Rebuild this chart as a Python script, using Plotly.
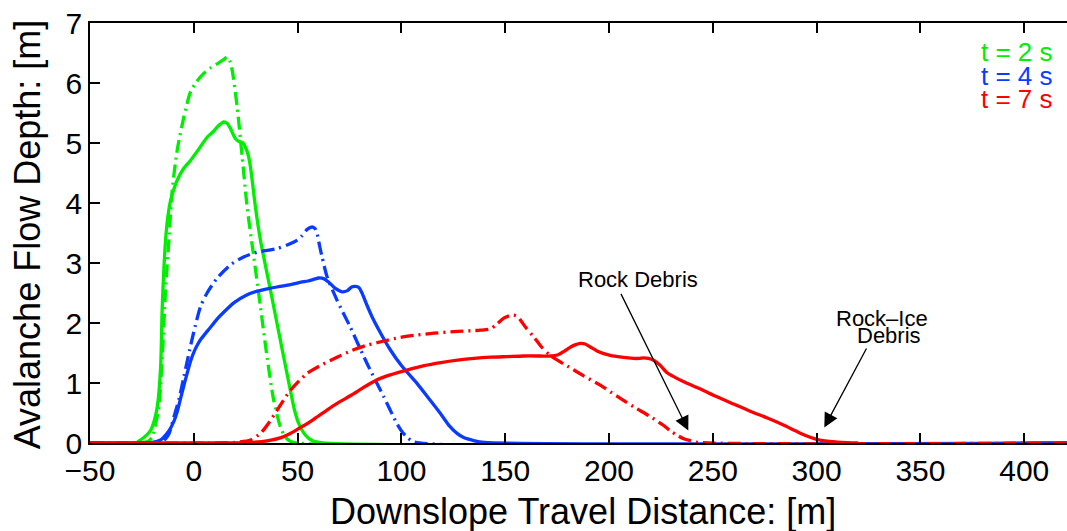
import plotly.graph_objects as go

# ---- data ----
x_g_solid = [-50, -28, -25.7, -22.5, -20.8, -19, -17.6, -16, -15.2, -13.6, -12.5, -11.2, -9.7, -8, -5, -1.6, 2, 6.5, 9.7, 11.3, 13, 14.4, 16, 17.7, 19, 20.1, 21.5, 22.5, 23.7, 24.9, 26.2, 27.3, 29.7, 32.1, 36.9, 41.7, 46.5, 48.5, 50.6, 53.8, 57, 62, 421]
y_g_solid = [0, 0, 0.05, 0.14, 0.21, 0.38, 0.6, 1.25, 2.27, 3.38, 3.77, 4.04, 4.22, 4.38, 4.57, 4.71, 4.88, 5.1, 5.2, 5.27, 5.32, 5.35, 5.33, 5.24, 5.14, 5.07, 5.03, 5.02, 5.0, 4.93, 4.8, 4.6, 3.93, 3.38, 2.55, 1.71, 0.88, 0.55, 0.32, 0.13, 0.04, 0, 0]

x_g_dash = [-50, -26, -22, -20, -18.5, -16.8, -15.2, -13.6, -12, -10.4, -8, -4.8, -1.6, 1.5, 4.8, 8, 11.3, 14, 16.1, 17.3, 18.5, 20.9, 23.3, 25.7, 28.9, 32.1, 35.3, 38.5, 41.7, 44.1, 47, 421]
y_g_dash = [0, 0, 0.03, 0.1, 0.3, 0.6, 1.43, 2.55, 3.38, 4.21, 4.88, 5.43, 5.85, 6.03, 6.16, 6.25, 6.32, 6.38, 6.43, 6.37, 6.21, 5.6, 4.77, 3.93, 3.1, 2.27, 1.43, 0.71, 0.27, 0.1, 0.02, 0]

x_b_solid = [-50, -25, -20, -16, -14.4, -12, -9.6, -8, -6.4, -4, -1.6, 0, 1.5, 3.2, 6.4, 9, 11.3, 14.4, 19.4, 25, 30.5, 35.5, 40, 46.6, 51.6, 55, 58, 60.2, 62.5, 65, 68, 71.4, 74, 76, 77.9, 79.5, 81, 83, 85.9, 90, 94.7, 100, 107.6, 113, 118.8, 123, 126.8, 130, 134.8, 140, 421]
y_b_solid = [0, 0, 0.01, 0.05, 0.1, 0.2, 0.36, 0.52, 0.74, 1.06, 1.36, 1.51, 1.62, 1.72, 1.86, 1.97, 2.07, 2.18, 2.34, 2.46, 2.53, 2.57, 2.6, 2.64, 2.68, 2.7, 2.73, 2.75, 2.74, 2.68, 2.58, 2.52, 2.54, 2.6, 2.61, 2.59, 2.5, 2.33, 2.1, 1.83, 1.55, 1.29, 0.99, 0.75, 0.49, 0.29, 0.16, 0.09, 0.04, 0.01, 0]

x_b_dash = [-50, -20, -16, -14.4, -12, -9.6, -7, -4.8, -2, 0, 3.2, 6.4, 11.3, 17.7, 24, 30.5, 40.1, 45, 49.8, 52, 54.6, 57, 58.5, 59.4, 60.5, 61.8, 64.2, 69, 75.4, 83.5, 91.5, 97.9, 100.5, 102.7, 106, 421]
y_b_dash = [0, 0, 0.01, 0.04, 0.15, 0.43, 0.75, 1.1, 1.55, 1.85, 2.27, 2.5, 2.75, 2.97, 3.1, 3.18, 3.24, 3.3, 3.38, 3.45, 3.56, 3.6, 3.57, 3.49, 3.3, 3.1, 2.77, 2.38, 1.93, 1.32, 0.77, 0.32, 0.18, 0.1, 0.02, 0]

x_r_solid = [-50, 15, 28, 36, 42, 46, 50.5, 55, 60, 65, 70, 76, 82, 88, 95, 103, 111, 119, 127, 135, 143, 151, 159, 167, 172, 175.5, 178.5, 181.5, 184, 186.2, 188.5, 191, 195, 200.6, 206, 211.8, 214.5, 216.7, 219, 221.5, 224.5, 228, 232, 236, 244, 252, 260, 268, 276, 284, 290, 295, 300, 305, 312, 320]
y_r_solid = [0, 0, 0.01, 0.04, 0.09, 0.15, 0.24, 0.33, 0.45, 0.57, 0.68, 0.8, 0.93, 1.05, 1.14, 1.22, 1.29, 1.34, 1.38, 1.41, 1.43, 1.44, 1.45, 1.45, 1.45, 1.47, 1.53, 1.6, 1.64, 1.66, 1.65, 1.6, 1.52, 1.46, 1.43, 1.41, 1.41, 1.42, 1.41, 1.38, 1.3, 1.17, 1.09, 1.02, 0.9, 0.77, 0.65, 0.53, 0.42, 0.3, 0.2, 0.12, 0.06, 0.03, 0.01, 0]

x_r_dash = [-50, 10, 20, 27.3, 32.1, 36, 40.2, 46.6, 54.6, 62, 69, 76, 83.5, 91.5, 99.5, 107.5, 115.6, 127, 138, 142.8, 146, 149.3, 152, 154.1, 155.8, 157.3, 160, 163.7, 167.5, 171.7, 180, 187.8, 196, 203.8, 212, 219.9, 226, 230, 232.7, 236, 239.1, 243, 421]
y_r_dash = [0, 0, 0.01, 0.05, 0.16, 0.33, 0.55, 0.88, 1.16, 1.31, 1.43, 1.54, 1.63, 1.7, 1.76, 1.8, 1.83, 1.86, 1.88, 1.9, 1.98, 2.08, 2.12, 2.13, 2.11, 2.05, 1.92, 1.77, 1.6, 1.46, 1.28, 1.12, 0.96, 0.78, 0.6, 0.44, 0.3, 0.19, 0.13, 0.07, 0.04, 0.01, 0]

x_ticks = [-50, 0, 50, 100, 150, 200, 250, 300, 350, 400]
y_ticks = [0, 1, 2, 3, 4, 5, 6, 7]
legend_labels = ["t = 2 s", "t = 4 s", "t = 7 s"]

GREEN = "rgb(0,238,0)"
BLUE = "rgb(10,60,255)"
RED = "rgb(255,0,0)"
DASHDOT = "13px,5px,2px,5px"
FONT = "Liberation Sans, Arial, Helvetica, sans-serif"

fig = go.Figure()
series = [
    (x_g_solid, y_g_solid, GREEN, "solid"),
    (x_g_dash, y_g_dash, GREEN, DASHDOT),
    (x_b_solid, y_b_solid, BLUE, "solid"),
    (x_b_dash, y_b_dash, BLUE, DASHDOT),
    (x_r_solid, y_r_solid, RED, "solid"),
    (x_r_dash, y_r_dash, RED, DASHDOT),
]
for xs, ys, col, dash in series:
    fig.add_trace(go.Scatter(x=xs, y=ys, mode="lines",
                             line=dict(color=col, width=3.3, dash=dash, shape="spline", smoothing=0.7),
                             showlegend=False, hoverinfo="skip"))

annotations = []
# legend-like colored text
for lab, col, yp in zip(legend_labels, [GREEN, BLUE, RED], [0.931, 0.873, 0.818]):
    annotations.append(dict(x=0.9877, y=yp, xref="paper", yref="paper", text=lab, showarrow=False,
                            xanchor="right", yanchor="middle", font=dict(size=26, color=col, family=FONT)))

# arrows
annotations.append(dict(x=238.2, y=0.21, ax=205.4, ay=2.51, xref="x", yref="y", axref="x", ayref="y",
                        text="", showarrow=True, arrowhead=2, arrowsize=2.2, arrowwidth=1.3, arrowcolor="black"))
annotations.append(dict(x=303.7, y=0.26, ax=324.4, ay=1.6, xref="x", yref="y", axref="x", ayref="y",
                        text="", showarrow=True, arrowhead=2, arrowsize=2.2, arrowwidth=1.3, arrowcolor="black"))
annotations.append(dict(x=214.1, y=2.73, xref="x", yref="y", text="Rock Debris", showarrow=False,
                        xanchor="center", yanchor="middle", font=dict(size=22, color="black", family=FONT)))
annotations.append(dict(x=331.6, y=2.08, xref="x", yref="y", text="Rock\u2013Ice", showarrow=False,
                        xanchor="center", yanchor="middle", font=dict(size=22, color="black", family=FONT)))
annotations.append(dict(x=334.9, y=1.8, xref="x", yref="y", text="Debris", showarrow=False,
                        xanchor="center", yanchor="middle", font=dict(size=22, color="black", family=FONT)))

# axis titles
annotations.append(dict(x=0.5046, y=-0.163, xref="paper", yref="paper", text="Downslope Travel Distance: [m]",
                        showarrow=False, xanchor="center", yanchor="middle", font=dict(size=36, color="black", family=FONT)))
annotations.append(dict(x=-0.064, y=0.498, xref="paper", yref="paper", text="Avalanche Flow Depth: [m]",
                        showarrow=False, textangle=-90, xanchor="center", yanchor="middle",
                        font=dict(size=36, color="black", family=FONT)))

fig.update_layout(
    width=1067, height=531,
    margin=dict(l=90, r=0, t=23, b=88),
    paper_bgcolor="white", plot_bgcolor="white",
    font=dict(family=FONT, color="black"),
    annotations=annotations,
    xaxis=dict(range=[-50, 420.6], tickvals=x_ticks, ticks="inside", ticklen=10, tickwidth=1.5, tickcolor="black",
               showline=True, linecolor="black", linewidth=1.8, mirror="ticks", showgrid=False, zeroline=False,
               tickfont=dict(size=30, color="black", family=FONT)),
    yaxis=dict(range=[0, 7], tickvals=y_ticks, ticks="inside", ticklen=10, tickwidth=1.5, tickcolor="black",
               showline=True, linecolor="black", linewidth=1.8, showgrid=False, zeroline=False,
               tickfont=dict(size=30, color="black", family=FONT)),
)

fig.write_html("out.html")
